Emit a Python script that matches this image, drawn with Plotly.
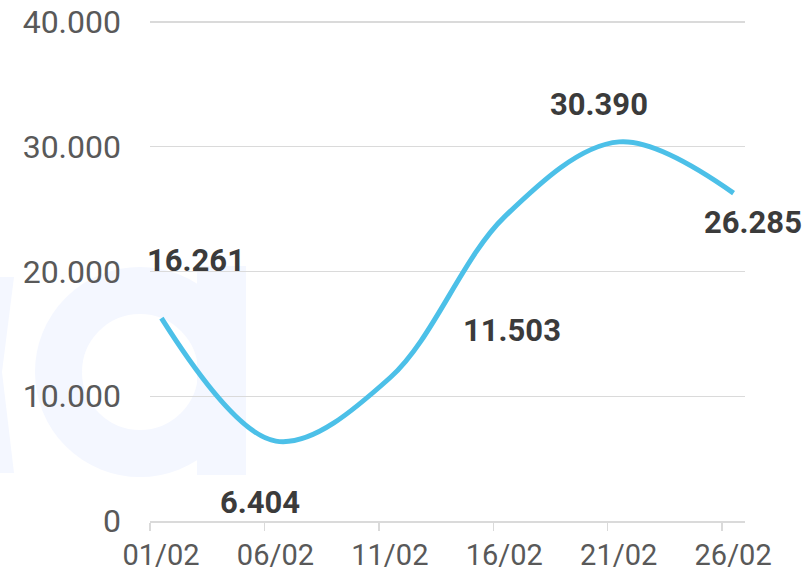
import plotly.graph_objects as go

# ---- data ----
dates = ["2024-02-01 12:00", "2024-02-06 12:00", "2024-02-11 12:00",
         "2024-02-16 12:00", "2024-02-21 12:00", "2024-02-26 12:00"]
values = [16261, 6404, 11503, 24400, 30390, 26285]
show_label = [True, True, True, False, True, True]
tick_dates = ["2024-02-01", "2024-02-06", "2024-02-11", "2024-02-16", "2024-02-21", "2024-02-26"]
tick_labels = ["01/02", "06/02", "11/02", "16/02", "21/02", "26/02"]
y_ticks = [0, 10000, 20000, 30000, 40000]
y_top = 40160

# label offsets (pixels) relative to each point
label_dx = [35, -16, 122, 0, -20, 19]
label_dy = [-58, 61, -47, 0, -37, 29]

W, H = 806, 576
ML, MT = 150, 20
PR, PB = 745, 521
MR, MB = W - PR, H - PB
PW, PH = PR - ML, PB - MT


def px(x):
    return (x - ML) / PW


def py(y):
    return (PB - y) / PH


fig = go.Figure()
fig.add_trace(go.Scatter(
    x=dates, y=values, mode="lines",
    line=dict(color="#4cc0e8", width=5, shape="spline", smoothing=1.0),
    hoverinfo="skip", cliponaxis=False,
))

annotations = []
for d, v, s, dx, dy in zip(dates, values, show_label, label_dx, label_dy):
    if not s:
        continue
    txt = f"{v:,}".replace(",", ".")
    annotations.append(dict(
        x=d, y=v, xref="x", yref="y", text=txt, showarrow=False,
        xshift=dx, yshift=-dy,
        font=dict(family="Roboto", size=31, color="#3b3b3b", weight="bold"),
    ))

wm = "#f4f7ff"
shapes = [
    dict(type="circle", xref="paper", yref="paper",
         x0=px(58.5), x1=px(221.5), y0=py(453.5), y1=py(290.5),
         line=dict(color=wm, width=47), layer="below"),
    dict(type="rect", xref="paper", yref="paper",
         x0=px(197), x1=px(246), y0=py(475), y1=py(266),
         fillcolor=wm, line=dict(width=0), layer="below"),
    dict(type="path", xref="paper", yref="paper",
         path=f"M {px(0)},{py(277)} L {px(14)},{py(277)} L {px(2)},{py(372)} "
              f"L {px(14)},{py(473)} L {px(0)},{py(473)} Z",
         fillcolor=wm, line=dict(width=0), layer="below"),
]

fig.update_layout(
    width=W, height=H,
    margin=dict(l=ML, r=MR, t=MT, b=MB, autoexpand=False),
    paper_bgcolor="white", plot_bgcolor="white",
    separators=",.",
    showlegend=False,
    hovermode=False,
    font=dict(family="Roboto", color="#595959"),
    annotations=annotations,
    shapes=shapes,
    xaxis=dict(
        type="date", range=["2024-02-01", "2024-02-27"],
        tickvals=tick_dates, ticktext=tick_labels,
        showgrid=False, zeroline=False, automargin=False,
        showline=True, linecolor="#dadada", linewidth=1.5,
        ticks="outside", ticklen=8, tickwidth=1.5, tickcolor="#dadada",
        ticklabelshift=11, ticklabeloverflow="allow",
        tickfont=dict(family="Roboto", size=29, color="#595959"),
    ),
    yaxis=dict(
        range=[0, y_top], tickvals=y_ticks,
        tickformat=",d", automargin=False,
        showgrid=True, gridcolor="#dadada", gridwidth=1.2,
        zeroline=False, showline=False, ticks="",
        ticklabelstandoff=28, ticklabeloverflow="allow",
        tickfont=dict(family="Roboto", size=32, color="#595959"),
    ),
)

fig.write_html(
    "out.html",
    config={"displayModeBar": False, "staticPlot": True},
    post_script="document.body.style.margin='0';document.body.style.overflow='hidden';",
)
